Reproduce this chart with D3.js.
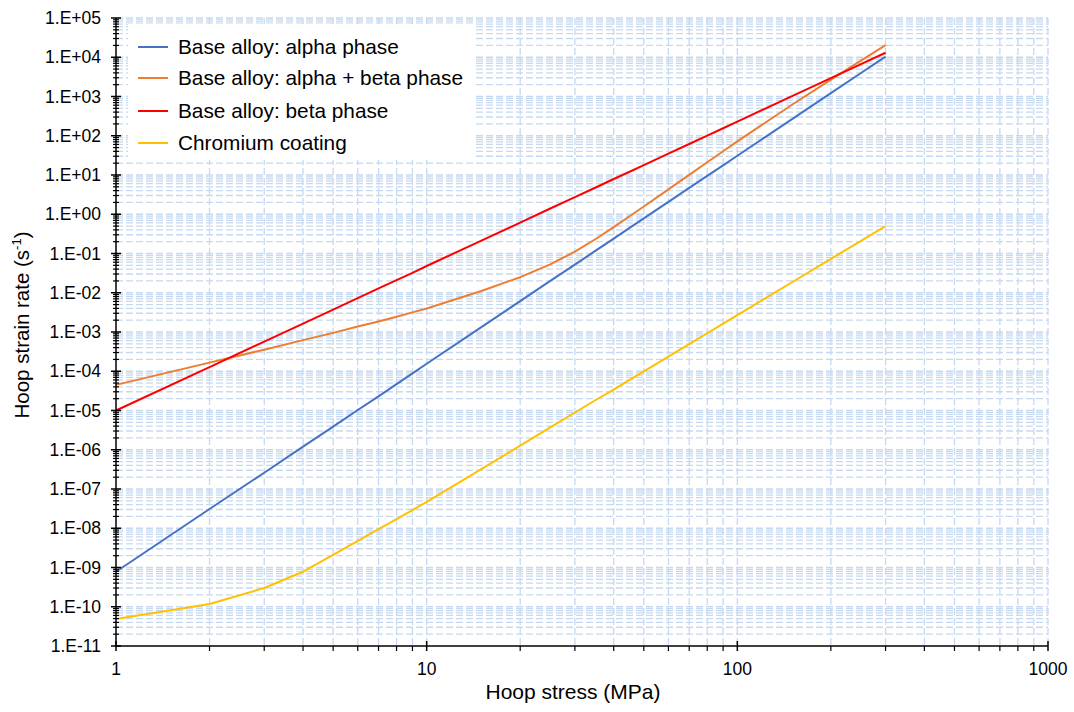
<!DOCTYPE html>
<html>
<head>
<meta charset="utf-8">
<script src="https://cdn.jsdelivr.net/npm/d3@7"></script>
<style>
  body { margin: 0; background: #fff; }
  svg { display: block; font-family: "Liberation Sans", Arial, sans-serif; }
</style>
</head>
<body>
<svg id="chart" width="1074" height="712"></svg>
<script>
// ---- data ----
const stress = [1, 2, 3, 4, 5, 6, 7, 8, 9, 10, 15, 20, 25, 30, 35, 40, 45, 50, 60, 70, 80, 90, 100, 150, 200, 250, 300];
const alphaPhase = [7.8e-10, 3.1e-8, 2.6e-7, 1.2e-6, 3.9e-6, 1.03e-5, 2.3e-5, 4.7e-5, 8.8e-5, 1.55e-4, 1.33e-3, 6.1e-3, 2.0e-2, 5.2e-2, 0.118, 0.24, 0.45, 0.785, 2.06, 4.7, 9.5, 17.6, 31, 265, 1220, 3970, 1.04e4];
const alphaBetaPhase = [4.5e-5, 1.66e-4, 3.55e-4, 6.2e-4, 9.5e-4, 1.38e-3, 1.86e-3, 2.45e-3, 3.16e-3, 3.98e-3, 1.11e-2, 2.49e-2, 5.3e-2, 0.112, 0.234, 0.468, 0.89, 1.58, 4.3, 10.1, 21.1, 40.3, 72, 617, 2690, 8200, 2.04e4];
const betaPhase = [1.0e-5, 1.28e-4, 5.7e-4, 1.64e-3, 3.7e-3, 7.3e-3, 1.29e-2, 2.1e-2, 3.2e-2, 4.8e-2, 0.213, 0.61, 1.40, 2.72, 4.8, 7.9, 12.1, 17.9, 34.9, 61.6, 101, 155, 229, 1020, 2940, 6680, 1.3e4];
const chromiumCoating = [4.9e-11, 1.17e-10, 3.0e-10, 7.8e-10, 2.1e-9, 4.75e-9, 9.5e-9, 1.72e-8, 2.9e-8, 4.7e-8, 3.2e-7, 1.27e-6, 3.7e-6, 8.9e-6, 1.85e-5, 3.4e-5, 6.0e-5, 9.9e-5, 2.36e-4, 4.9e-4, 9.3e-4, 1.63e-3, 2.7e-3, 1.85e-2, 7.3e-2, 0.211, 0.5];
const seriesNames = ["Base alloy: alpha phase", "Base alloy: alpha + beta phase", "Base alloy: beta phase", "Chromium coating"];
const seriesColors = ["#4472C4", "#ED7D31", "#FF0000", "#FFC000"];
const xTickValues = [1, 10, 100, 1000];
const xTickLabels = ["1", "10", "100", "1000"];
const yDecades = d3.range(-11, 6); // 1e-11 ... 1e5
const xTitle = "Hoop stress (MPa)";
const yTitle = "Hoop strain rate (s";

const series = [alphaPhase, alphaBetaPhase, betaPhase, chromiumCoating];

// ---- layout ----
const svg = d3.select("#chart");
const pL = 116, pR = 1048, pT = 18, pB = 646;
const x = d3.scaleLog().domain([1, 1000]).range([pL, pR]);
const y = d3.scaleLog().domain([1e-11, 1e5]).range([pB, pT]);

const gridColor = "#c6d9f0";

const isDecade = v => Math.abs(Math.log10(v) - Math.round(Math.log10(v))) < 1e-9;
const xGridVals = [];
for (let d = 0; d < 3; d++) for (let m = 2; m <= 10; m++) xGridVals.push(m * Math.pow(10, d));
const yGridVals = [];
for (const d of yDecades.slice(0, -1)) for (let m = 2; m <= 10; m++) yGridVals.push(m * Math.pow(10, d));

const grid = svg.append("g");
grid.selectAll("line.hg").data(yGridVals).join("line")
  .attr("x1", pL).attr("x2", pR)
  .attr("y1", d => y(d)).attr("y2", d => y(d))
  .attr("stroke", gridColor).attr("stroke-width", 1.3).attr("stroke-dasharray", "7,3");
grid.selectAll("line.vg").data(xGridVals).join("line")
  .attr("y1", pT).attr("y2", pB)
  .attr("x1", d => x(d)).attr("x2", d => x(d))
  .attr("stroke", gridColor).attr("stroke-width", 1.3).attr("stroke-dasharray", "7,3");

// legend background (hides grid)
svg.append("rect").attr("x", 128).attr("y", 24).attr("width", 346).attr("height", 136).attr("fill", "#fff");

// ---- series ----
const line = d3.line().x(d => x(d[0])).y(d => y(d[1]));
series.forEach((vals, i) => {
  svg.append("path")
    .datum(stress.map((s, j) => [s, vals[j]]))
    .attr("fill", "none").attr("stroke", seriesColors[i]).attr("stroke-width", 2)
    .attr("stroke-linejoin", "round")
    .attr("d", line);
});

// ---- axes ----
const axisG = svg.append("g");
axisG.append("line").attr("x1", pL).attr("x2", pL).attr("y1", pT).attr("y2", pB)
  .attr("stroke", "#000").attr("stroke-width", 1.5);
axisG.append("line").attr("x1", pL).attr("x2", pR).attr("y1", pB).attr("y2", pB)
  .attr("stroke", "#000").attr("stroke-width", 1.5);

// y ticks
const yMinor = yGridVals.filter(v => !isDecade(v));
axisG.selectAll("line.ymin").data(yMinor).join("line")
  .attr("x1", pL - 3).attr("x2", pL + 3)
  .attr("y1", d => y(d)).attr("y2", d => y(d))
  .attr("stroke", "#000").attr("stroke-width", 1.2);
axisG.selectAll("line.ymaj").data(yDecades).join("line")
  .attr("x1", pL - 5).attr("x2", pL + 5)
  .attr("y1", d => y(Math.pow(10, d))).attr("y2", d => y(Math.pow(10, d)))
  .attr("stroke", "#000").attr("stroke-width", 1.5);
const fmtExp = d => "1.E" + (d >= 0 ? "+" : "-") + String(Math.abs(d)).padStart(2, "0");
axisG.selectAll("text.ylab").data(yDecades).join("text")
  .attr("x", 101).attr("y", d => y(Math.pow(10, d)))
  .attr("dy", "0.35em").attr("text-anchor", "end")
  .attr("font-size", 17.5).attr("fill", "#000")
  .text(d => fmtExp(d));

// x ticks
const xMinor = xGridVals.filter(v => !isDecade(v));
axisG.selectAll("line.xmin").data(xMinor).join("line")
  .attr("x1", d => x(d)).attr("x2", d => x(d))
  .attr("y1", pB).attr("y2", pB + 5)
  .attr("stroke", "#000").attr("stroke-width", 1.2);
axisG.selectAll("line.xmaj").data(xTickValues).join("line")
  .attr("x1", d => x(d)).attr("x2", d => x(d))
  .attr("y1", pB - 5).attr("y2", pB + 5)
  .attr("stroke", "#000").attr("stroke-width", 1.5);
axisG.selectAll("text.xlab").data(xTickValues).join("text")
  .attr("x", d => x(d)).attr("y", 675)
  .attr("text-anchor", "middle").attr("font-size", 17.5).attr("fill", "#000")
  .text((d, i) => xTickLabels[i]);

// titles
svg.append("text").attr("x", 573).attr("y", 699).attr("text-anchor", "middle")
  .attr("font-size", 21).attr("fill", "#000").text(xTitle);
const yt = svg.append("text").attr("transform", "translate(29,325) rotate(-90)")
  .attr("text-anchor", "middle").attr("font-size", 20.5).attr("fill", "#000");
yt.append("tspan").text(yTitle);
yt.append("tspan").attr("font-size", 13).attr("dy", -8).text("-1");
yt.append("tspan").attr("dy", 8).text(")");

// legend
const legY = [47, 78, 111, 143];
const leg = svg.append("g");
seriesNames.forEach((name, i) => {
  leg.append("line").attr("x1", 138).attr("x2", 168).attr("y1", legY[i]).attr("y2", legY[i])
    .attr("stroke", seriesColors[i]).attr("stroke-width", 2);
  leg.append("text").attr("x", 178).attr("y", legY[i]).attr("dy", "0.35em")
    .attr("font-size", 20.8).attr("fill", "#000").text(name);
});
</script>
</body>
</html>
